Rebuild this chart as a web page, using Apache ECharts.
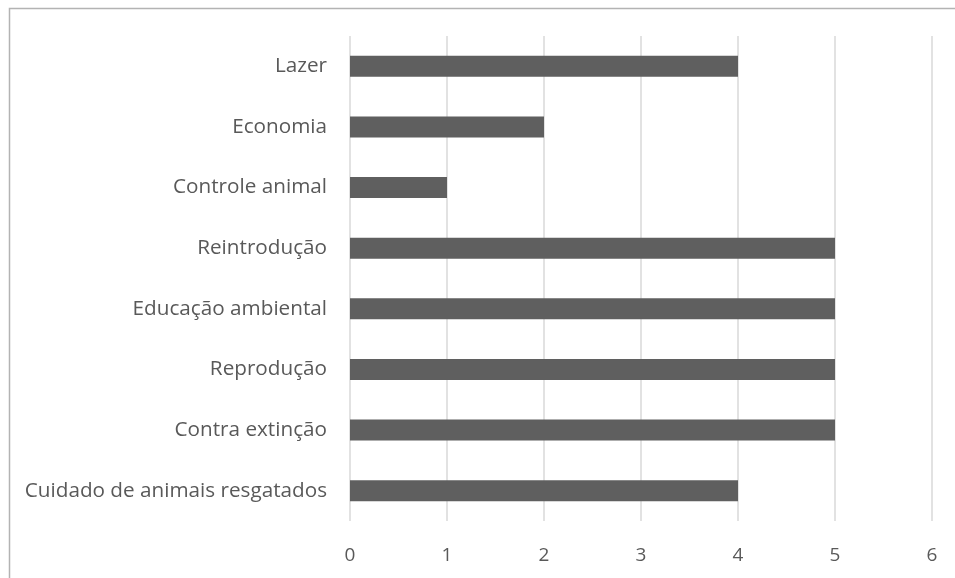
<!DOCTYPE html>
<html>
<head>
<meta charset="utf-8">
<script src="https://cdn.jsdelivr.net/npm/echarts@6/dist/echarts.min.js"></script>
<style>
  html, body { margin: 0; padding: 0; background: #ffffff; }
  #chart { width: 955px; height: 578px; }
</style>
</head>
<body>
<div id="chart"></div>
<script>
// Motivos citados, de cima para baixo
const categories = [
  'Lazer',
  'Economia',
  'Controle animal',
  'Reintrodução',
  'Educação ambiental',
  'Reprodução',
  'Contra extinção',
  'Cuidado de animais resgatados'
];
const values = [4, 2, 1, 5, 5, 5, 5, 4];
const xTicks = [0, 1, 2, 3, 4, 5, 6];

const textColor = '#595959';
const fontFamily = '"Open Sans", "Liberation Sans", sans-serif';

const chart = echarts.init(document.getElementById('chart'), null, { renderer: 'canvas' });

chart.setOption({
  animation: false,
  backgroundColor: '#ffffff',
  graphic: [{
    type: 'rect',
    left: 7,
    top: 6,
    shape: { width: 1000, height: 1000 },
    style: { fill: 'none', stroke: '#b3b3b3', lineWidth: 1.5 },
    silent: true,
    z: 0
  }],
  grid: { left: 350, right: 23, top: 36, bottom: 57, containLabel: false },
  xAxis: {
    type: 'value',
    min: xTicks[0],
    max: xTicks[xTicks.length - 1],
    interval: 1,
    axisLine: { show: false },
    axisTick: { show: false },
    splitLine: { show: true, lineStyle: { color: '#d9d9d9', width: 1.5 } },
    axisLabel: {
      margin: 25,
      color: textColor,
      fontSize: 19,
      fontFamily: fontFamily,
      formatter: function (v) { return String(v); }
    }
  },
  yAxis: {
    type: 'category',
    inverse: true,
    data: categories,
    axisLine: { show: false },
    axisTick: { show: false },
    axisLabel: {
      margin: 23,
      color: textColor,
      fontSize: 20.7,
      fontFamily: fontFamily
    }
  },
  series: [{
    type: 'bar',
    data: values,
    barWidth: 21,
    itemStyle: { color: '#5f5f5f' },
    silent: true
  }]
});
</script>
</body>
</html>
